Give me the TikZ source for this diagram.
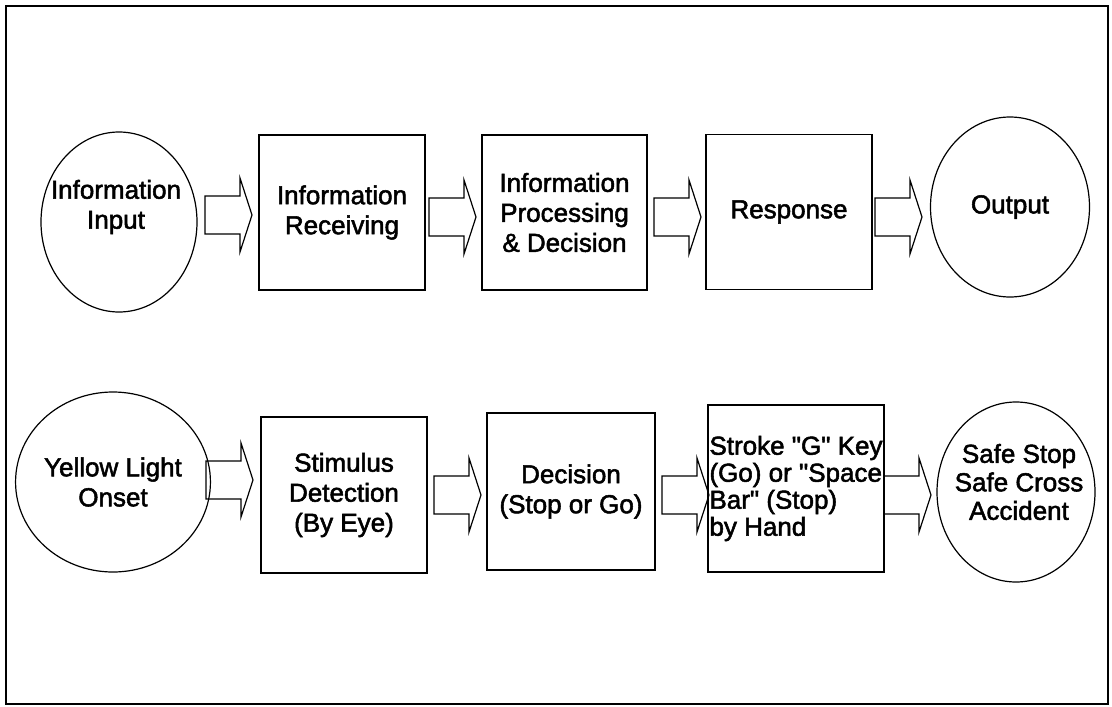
\documentclass[tikz,border=0pt]{standalone}
\usepackage{fontspec}
\setmainfont{Liberation Sans}[Ligatures=TeXOff, FakeBold=2]
\usepackage{tikz}
\usetikzlibrary{shapes.geometric}

\newcommand{\blockarrow}[1]{%
  \draw[line width=1.2pt, line join=miter] (#1) ++(0,-19) -- ++(35,0) -- ++(0,-18) -- ++(12,37) -- ++(-12,37) -- ++(0,-18) -- ++(-35,0) -- cycle;}

\begin{document}
\begin{tikzpicture}[x=1pt, y=-1pt,
		oval/.style={draw, line width=1.2pt, ellipse, minimum width=156pt, minimum height=180pt, inner sep=0pt, align=center},
		stage/.style={draw, line width=1.2pt, rectangle, minimum width=166pt, minimum height=155pt, inner sep=0pt, align=center},
		every node/.style={font=\fontsize{26}{30}\selectfont}]
			\useasboundingbox (0,0) rectangle (1112,707);
			\draw[line width=2pt] (6,6) rectangle (1108,704);
			
			% top row
			\node[oval] (input) at (119,222) {};
			\node[align=center] (inputtext) at (116,207) {Information\\Input};
			\node[stage] (recv) at (342,212.5) {Information\\Receiving};
			\node[stage, minimum width=165pt] (proc) at (564.5,212.5) {Information\\Processing\\\& Decision};
			\node[stage] (resp) at (789,212) {Response};
			\node[oval, minimum width=159pt] (output) at (1010,207) {Output};
			
			% bottom row
			\node[oval] (onset) at (113,482) {Yellow Light\\Onset};
			\node[stage, minimum height=156pt] (detect) at (344,495) {Stimulus\\Detection\\(By Eye)};
			\node[stage, minimum width=168pt, minimum height=157pt] (decide) at (571,491.5) {Decision\\(Stop or Go)};
			\node[stage, minimum width=176pt, minimum height=167pt, align=left,
				font=\fontsize{26}{27}\selectfont] (stroke) at (796,488.5) {Stroke "G" Key\\(Go) or "Space\\Bar" (Stop)\\by Hand};
			\node[oval, minimum width=158pt] (result) at (1016,492) {};
			\node[align=center, font=\fontsize{26}{28.5}\selectfont] (resulttext) at (1019,482) {Safe Stop\\Safe Cross\\Accident};
			
			% block arrows
			\coordinate (a1) at (205,215);
			\coordinate (a2) at (429,217);
			\coordinate (a3) at (654,217);
			\coordinate (a4) at (875,217);
			\coordinate (a5) at (206,480);
			\coordinate (a6) at (434,495);
			\coordinate (a7) at (662,495);
			\coordinate (a8) at (884,495);
			\foreach \a in {a1,a2,a3,a4,a5,a6,a7,a8}
				\blockarrow{\a};
		\end{tikzpicture}
\end{document}
